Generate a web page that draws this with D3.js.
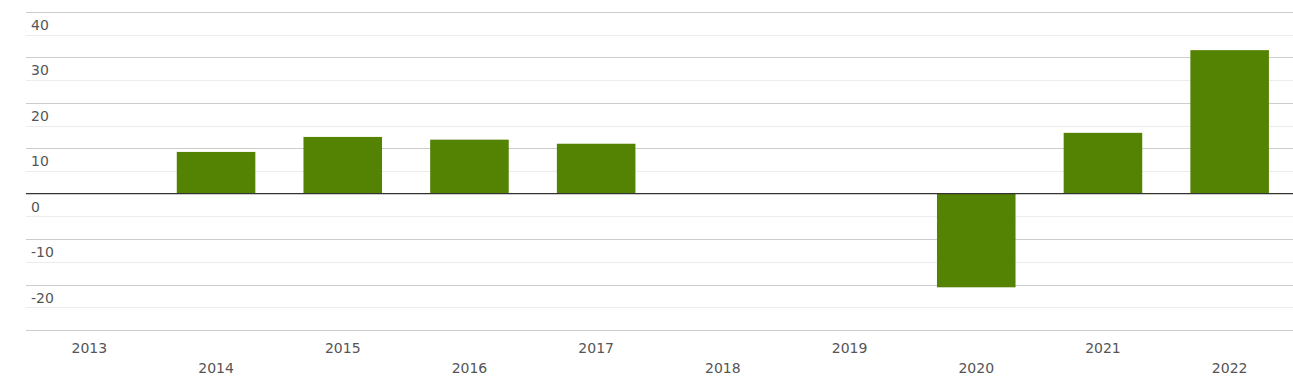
<html>
<head>
    <style>
        body {
            margin: 0;
            background-color: white;
        }
        .grid-major {
            stroke: #cccccc;
            stroke-width: 1;
        }
        .grid-minor {
            stroke: #ececec;
            stroke-width: 1;
        }
        .zero-line {
            stroke: #333333;
            stroke-width: 1.2;
        }
        .tick-label {
            font-family: "DejaVu Sans", sans-serif;
            font-size: 14px;
            fill: #555555;
        }
        .bar {
            fill: #548203;
        }
    </style>
</head>
<body>
<script src="https://cdn.jsdelivr.net/npm/d3@7/dist/d3.min.js"></script>
<script>
    (function() {

        var years = ["2013", "2014", "2015", "2016", "2017", "2018", "2019", "2020", "2021", "2022"];
        var values = [0, 9.2, 12.5, 11.9, 11.0, 0, 0, -20.6, 13.4, 31.6];
        var yTicks = [40, 30, 20, 10, 0, -10, -20, -30];
        var yTickLabels = ["40", "30", "20", "10", "0", "-10", "-20", ""];

        var width = 1293;
        var height = 384;
        var left = 26, right = 1293, top = 12, bottom = 330;

        var svg = d3.select("body")
                .append("svg")
                .attr("width", width)
                .attr("height", height);

        var x = d3.scaleBand()
                .domain(years)
                .range([left, right])
                .paddingInner(0.38)
                .paddingOuter(0.19);

        var y = d3.scaleLinear()
                .domain([-30, 40])
                .range([bottom, top]);

        // minor gridlines halfway between the major ones
        var minor = d3.range(-25, 40, 10);
        svg.selectAll(".grid-minor")
                .data(minor)
                .enter()
                .append("line")
                .classed("grid-minor", 1)
                .attr("x1", left)
                .attr("x2", right)
                .attr("y1", function (d) { return Math.round(y(d)) + 0.5; })
                .attr("y2", function (d) { return Math.round(y(d)) + 0.5; });

        svg.selectAll(".grid-major")
                .data(yTicks.filter(function (d) { return d !== 0; }))
                .enter()
                .append("line")
                .classed("grid-major", 1)
                .attr("x1", left)
                .attr("x2", right)
                .attr("y1", function (d) { return Math.round(y(d)) + 0.5; })
                .attr("y2", function (d) { return Math.round(y(d)) + 0.5; });

        svg.selectAll(".bar")
                .data(values)
                .enter()
                .append("rect")
                .classed("bar", 1)
                .attr("x", function (d, i) { return x(years[i]); })
                .attr("width", x.bandwidth())
                .attr("y", function (d) { return y(Math.max(0, d)); })
                .attr("height", function (d) { return Math.abs(y(d) - y(0)); });

        svg.append("line")
                .classed("zero-line", 1)
                .attr("x1", left)
                .attr("x2", right)
                .attr("y1", y(0))
                .attr("y2", y(0));

        svg.selectAll(".y-label")
                .data(yTicks)
                .enter()
                .append("text")
                .classed("tick-label", 1)
                .attr("x", 31)
                .attr("y", function (d) { return y(d) + 18; })
                .text(function (d, i) { return yTickLabels[i]; });

        svg.selectAll(".x-label")
                .data(years)
                .enter()
                .append("text")
                .classed("tick-label", 1)
                .attr("text-anchor", "middle")
                .attr("x", function (d) { return x(d) + x.bandwidth() / 2; })
                .attr("y", function (d, i) { return i % 2 === 0 ? 353 : 373; })
                .text(function (d) { return d; });

    })();
</script>
</body>
</html>
